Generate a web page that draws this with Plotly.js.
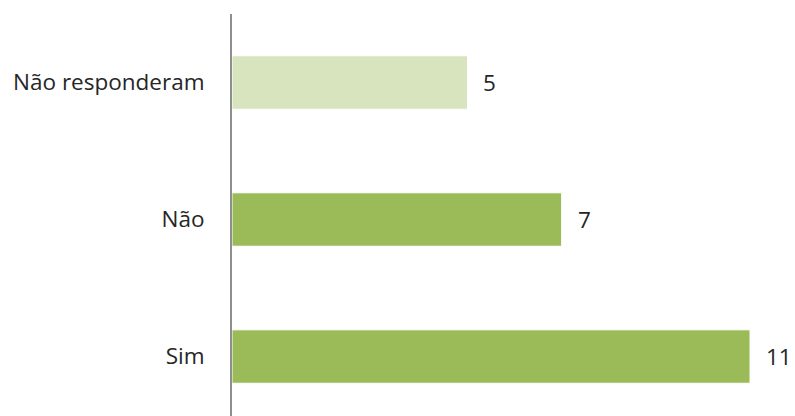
<!DOCTYPE html>
<html>
<head>
<meta charset="utf-8">
<script src="https://cdn.plot.ly/plotly-3.0.1.min.js"></script>
<style>html,body{margin:0;padding:0;background:#fff;}#chart{width:795px;height:416px;}</style>
</head>
<body>
<div id="chart"></div>
<script>
var categories = ["Sim", "Não", "Não responderam"];
var values = [11, 7, 5];
var barColors = ["#9BBB59", "#9BBB59", "#D7E4BD"];

var trace = {
  type: "bar",
  orientation: "h",
  y: categories,
  x: values,
  width: 0.39,
  marker: { color: barColors, line: { color: "#ffffff", width: 1 } },
  hoverinfo: "skip"
};

var annotations = categories.map(function (c, i) {
  return {
    x: values[i], y: c, xref: "x", yref: "y",
    text: String(values[i]), showarrow: false,
    xanchor: "left", xshift: 14,
    font: { family: "Open Sans, sans-serif", size: 22.5, color: "#262626" }
  };
});

var layout = {
  width: 795, height: 416,
  margin: { l: 232, r: 12, t: 14, b: 0 },
  paper_bgcolor: "#ffffff", plot_bgcolor: "#ffffff",
  showlegend: false,
  xaxis: { range: [0, 11.7], visible: false, fixedrange: true },
  yaxis: {
    type: "category",
    range: [-0.434, 2.5],
    showline: true, linecolor: "#8e8e8e", linewidth: 2,
    showgrid: false, zeroline: false, ticks: "",
    ticklabelstandoff: 21,
    tickfont: { family: "Open Sans, sans-serif", size: 22.5, color: "#262626" }
  },
  annotations: annotations
};

Plotly.newPlot("chart", [trace], layout, { staticPlot: true, displayModeBar: false });
</script>
</body>
</html>
